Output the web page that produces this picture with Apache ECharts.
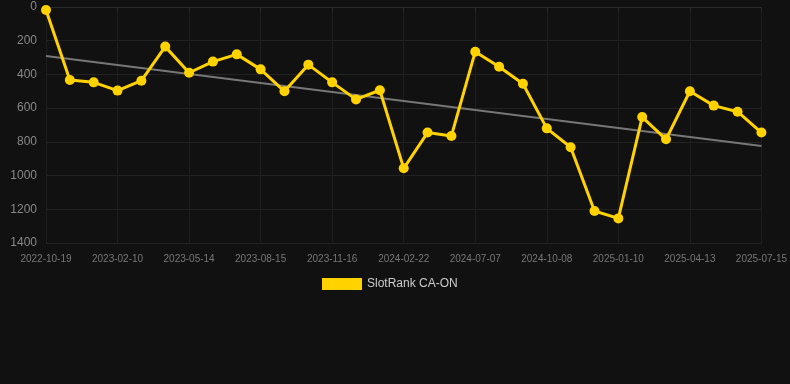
<!DOCTYPE html>
<html><head><meta charset="utf-8">
<script src="https://cdn.jsdelivr.net/npm/echarts@6/dist/echarts.min.js"></script>
<style>html,body{margin:0;padding:0;background:#111111;}#c{width:790px;height:384px;}</style>
</head><body><div id="c"></div>
<script>
const categories = ["2022-10-19","2022-11-26","2023-01-03","2023-02-10","2023-03-13","2023-04-13","2023-05-14","2023-06-14","2023-07-15","2023-08-15","2023-09-15","2023-10-16","2023-11-16","2023-12-18","2024-01-20","2024-02-22","2024-04-07","2024-05-23","2024-07-07","2024-08-07","2024-09-07","2024-10-08","2024-11-08","2024-12-10","2025-01-10","2025-02-10","2025-03-13","2025-04-13","2025-05-14","2025-06-14","2025-07-15"];
const rankValues = [18,433,447,496,437,235,390,324,281,370,500,342,447,548,494,957,745,765,265,354,455,720,832,1210,1254,653,785,500,585,621,745];
const trendValues = [291,825];
const yTicks = [0,200,400,600,800,1000,1200,1400];
const seriesName = "SlotRank CA-ON";

const chart = echarts.init(document.getElementById('c'));
chart.setOption({
  backgroundColor: '#111111',
  animation: false,
  textStyle: {fontFamily: 'Liberation Sans, Arial, sans-serif'},
  grid: {left: 46, right: 24, top: 7, bottom: 141, containLabel: false},
  xAxis: {
    type: 'category', data: categories, boundaryGap: false,
    axisLine: {show: true, lineStyle: {color: '#2a2a2a'}},
    axisTick: {show: true, interval: 2, lineStyle: {color: '#2a2a2a'}},
    axisLabel: {interval: 2, color: '#777', fontSize: 10, margin: 11, fontFamily: 'Liberation Sans'},
    splitLine: {show: true, interval: 2, lineStyle: {color: '#1e1e1e'}}
  },
  yAxis: {
    type: 'value', inverse: true, min: yTicks[0], max: yTicks[yTicks.length-1], interval: 200,
    axisLine: {show: false}, axisTick: {show: false},
    axisLabel: {color: '#888', fontSize: 12, margin: 9, fontFamily: 'Liberation Sans', formatter: v => String(v)},
    splitLine: {show: true, lineStyle: {color: '#222'}}
  },
  legend: {
    data: [seriesName], bottom: 89, left: 317, itemWidth: 40, itemHeight: 12, itemGap: 10,
    icon: 'rect',
    textStyle: {color: '#ccc', fontSize: 12, fontFamily: 'Liberation Sans'}
  },
  series: [
    {
      name: 'trend', type: 'line', silent: true, symbol: 'none',
      data: [[0, trendValues[0]], [categories.length-1, trendValues[1]]],
      lineStyle: {color: '#777', width: 2}, z: 1
    },
    {
      name: seriesName, type: 'line', data: rankValues, symbol: 'circle', symbolSize: 10,
      itemStyle: {color: '#FFD200'}, lineStyle: {color: '#FFD200', width: 3}, z: 2
    }
  ]
});
</script></body></html>
